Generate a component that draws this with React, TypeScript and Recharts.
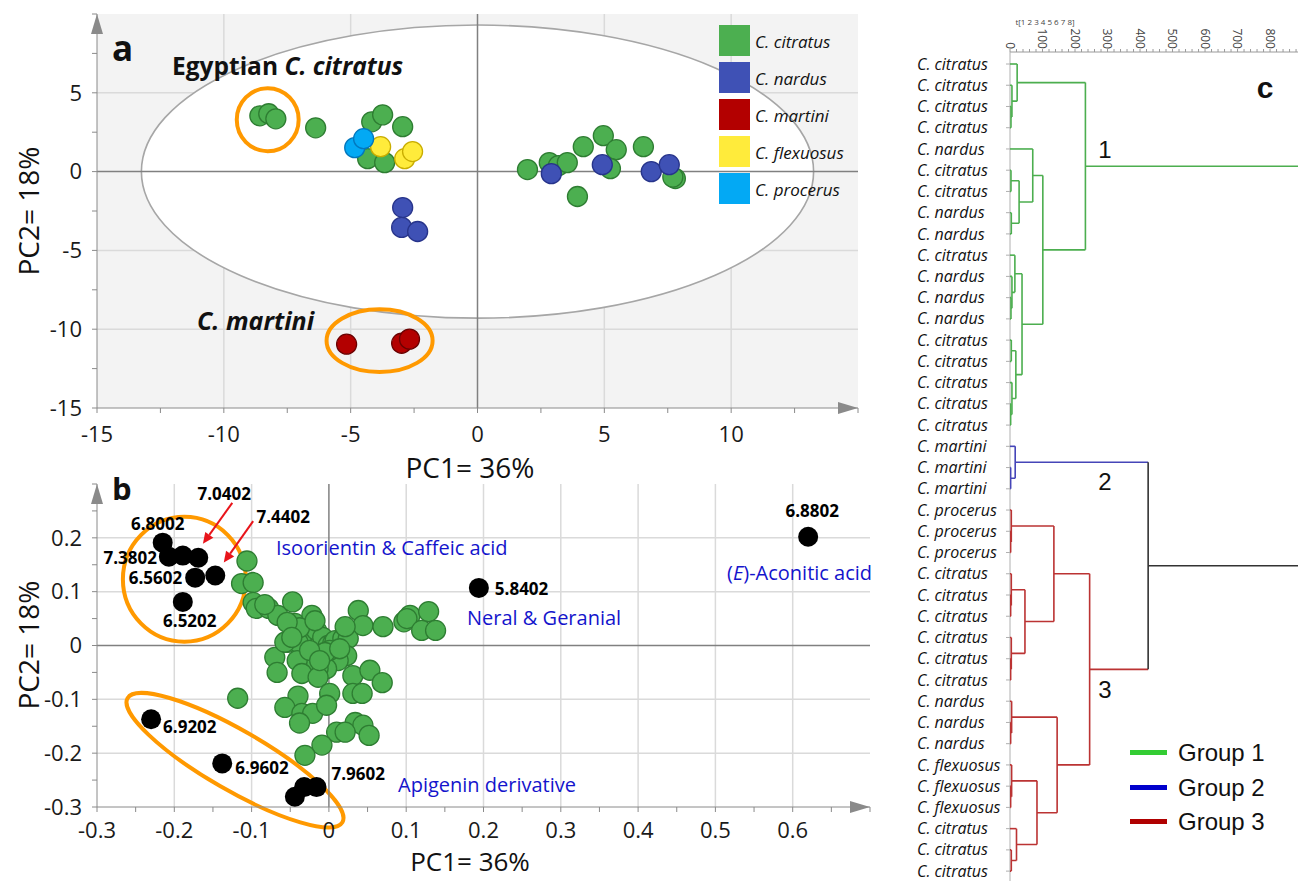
import React from "react";
import {
  ScatterChart, Scatter, XAxis, YAxis, CartesianGrid, ReferenceLine, ReferenceArea, ReferenceDot,
} from "recharts";

// ---------- panel a: PCA scores ----------
const citratusX = [-8.58, -8.23, -7.95, -6.38, -4.17, -3.74, -2.95, -4.33, -3.66, 1.97, 2.83, 3.19, 3.54, 4.17, 4.96, 5.47, 5.24, 3.94, 6.54, 7.8, 7.7];
const citratusY = [3.54, 3.67, 3.35, 2.78, 3.16, 3.6, 2.85, 0.82, 0.57, 0.13, 0.57, 0.38, 0.57, 1.58, 2.28, 1.39, 0.19, -1.58, 1.58, -0.44, -0.35];
const nardusX = [-2.95, -2.99, -2.36, 2.91, 4.92, 6.85, 7.56];
const nardusY = [-2.28, -3.54, -3.8, -0.13, 0.44, 0.0, 0.44];
const martiniX = [-5.16, -2.99, -2.68];
const martiniY = [-10.95, -10.89, -10.63];
const flexuosusX = [-3.82, -2.87, -2.56];
const flexuosusY = [1.58, 0.82, 1.27];
const procerusX = [-4.84, -4.49];
const procerusY = [1.52, 2.09];

const aXTicks = [-15, -12.5, -10, -7.5, -5, -2.5, 0, 2.5, 5, 7.5, 10, 12.5, 15];
const aXLabels = [-15, -10, -5, 0, 5, 10];
const aYTicks = [-15, -12.5, -10, -7.5, -5, -2.5, 0, 2.5, 5, 7.5, 10];
const aYLabels = [-15, -10, -5, 0, 5];
const aGridX = [-10, -5, 5, 10];
const aGridY = [-10, -5, 5];

const species = [
  { name: "C. citratus", xs: citratusX, ys: citratusY, fill: "#4caf50", stroke: "#2e7d32" },
  { name: "C. nardus", xs: nardusX, ys: nardusY, fill: "#3f51b5", stroke: "#27348b" },
  { name: "C. martini", xs: martiniX, ys: martiniY, fill: "#b30000", stroke: "#6a0000" },
  { name: "C. flexuosus", xs: flexuosusX, ys: flexuosusY, fill: "#ffeb3b", stroke: "#c9ad00" },
  { name: "C. procerus", xs: procerusX, ys: procerusY, fill: "#03a9f4", stroke: "#0277bd" },
];

// ---------- panel b: loadings ----------
const bGreenX = [-0.106, -0.113, -0.098, -0.098, -0.094, -0.078, -0.066, -0.047, -0.044, -0.022, -0.034, -0.053, -0.04, -0.016, -0.008, 0.001, -0.001, 0.005, 0.008, 0.018, 0.025, 0.023, 0.012, -0.003, -0.014, -0.028, -0.041, -0.07, -0.067, -0.035, -0.014, 0.031, 0.053, 0.069, 0.031, 0.043, 0.001, -0.04, -0.057, -0.035, -0.021, -0.003, -0.038, -0.118, 0.034, 0.044, 0.01, 0.021, 0.052, -0.009, -0.031, 0.038, 0.044, 0.07, 0.097, 0.105, 0.101, 0.12, 0.129, 0.138, -0.038, -0.057, -0.054, 0.001, -0.005, 0.014, -0.025, -0.012, -0.048, -0.083, -0.018, 0.021];
const bGreenY = [0.157, 0.115, 0.117, 0.08, 0.069, 0.069, 0.056, 0.081, 0.041, 0.056, 0.02, 0.006, 0.006, 0.028, 0.015, -0.004, 0.0, 0.004, 0.009, 0.013, 0.013, -0.019, -0.028, -0.043, -0.043, -0.028, -0.028, -0.022, -0.05, -0.052, -0.059, -0.056, -0.046, -0.069, -0.089, -0.089, -0.089, -0.094, -0.115, -0.126, -0.126, -0.111, -0.144, -0.098, -0.143, -0.148, -0.161, -0.161, -0.167, -0.185, -0.204, 0.065, 0.037, 0.035, 0.044, 0.056, 0.05, 0.028, 0.063, 0.028, 0.033, 0.006, 0.043, -0.009, -0.013, -0.006, -0.009, -0.028, 0.015, 0.076, 0.046, 0.035];

const loadingX = [-0.215, -0.207, -0.189, -0.169, -0.173, -0.147, -0.189, 0.194, 0.62, -0.23, -0.138, -0.044, -0.032, -0.016];
const loadingY = [0.191, 0.165, 0.167, 0.163, 0.126, 0.13, 0.081, 0.107, 0.202, -0.137, -0.219, -0.281, -0.263, -0.263];
const loadingLabel = ["6.8002", "7.3802", "", "7.0402", "6.5602", "7.4402", "6.5202", "5.8402", "6.8802", "6.9202", "6.9602", "", "", "7.9602"];

const bXTicks = [-0.3, -0.25, -0.2, -0.15, -0.1, -0.05, 0, 0.05, 0.1, 0.15, 0.2, 0.25, 0.3, 0.35, 0.4, 0.45, 0.5, 0.55, 0.6, 0.65, 0.7];
const bXLabels = [-0.3, -0.2, -0.1, 0, 0.1, 0.2, 0.3, 0.4, 0.5, 0.6];
const bYTicks = [-0.3, -0.25, -0.2, -0.15, -0.1, -0.05, 0, 0.05, 0.1, 0.15, 0.2, 0.25, 0.3];
const bYLabels = [-0.3, -0.2, -0.1, 0, 0.1, 0.2];
const bGridX = [-0.2, -0.1, 0.1, 0.2, 0.3, 0.4, 0.5, 0.6];
const bGridY = [-0.2, -0.1, 0.1, 0.2];

// label placement (px offset from the point, anchor)
const loadingLabelPlace: Record<string, [number, number, "start" | "middle" | "end"]> = {
  "6.8002": [-5, -19, "middle"],
  "7.3802": [-12, 1, "end"],
  "6.5602": [-13, 0, "end"],
  "6.5202": [7, 19, "middle"],
  "7.0402": [26, -64, "middle"],
  "7.4402": [68, -58, "middle"],
  "5.8402": [16, 1, "start"],
  "6.8802": [4, -26, "middle"],
  "6.9202": [12, 8, "start"],
  "6.9602": [13, 5, "start"],
  "7.9602": [15, -13, "start"],
};

// ---------- panel c: dendrogram ----------
const leafNames = [
  "C. citratus", "C. citratus", "C. citratus", "C. citratus", "C. nardus", "C. citratus", "C. citratus",
  "C. nardus", "C. nardus", "C. citratus", "C. nardus", "C. nardus", "C. nardus", "C. citratus",
  "C. citratus", "C. citratus", "C. citratus", "C. citratus",
  "C. martini", "C. martini", "C. martini",
  "C. procerus", "C. procerus", "C. procerus", "C. citratus", "C. citratus", "C. citratus",
  "C. citratus", "C. citratus", "C. citratus", "C. nardus", "C. nardus", "C. nardus",
  "C. flexuosus", "C. flexuosus", "C. flexuosus", "C. citratus", "C. citratus", "C. citratus",
];
const leafGroup = [
  1, 1, 1, 1, 1, 1, 1, 1, 1, 1, 1, 1, 1, 1, 1, 1, 1, 1,
  2, 2, 2,
  3, 3, 3, 3, 3, 3, 3, 3, 3, 3, 3, 3, 3, 3, 3, 3, 3, 3,
];
// [left, right, height, group]; ids < 39 are leaves, 39 + k is merge k
const merges: [number, number, number, number][] = [
  [2, 3, 3, 1], [1, 39, 6, 1], [0, 40, 22, 1], [5, 6, 3, 1], [7, 8, 4, 1], [42, 43, 28, 1],
  [4, 44, 70, 1], [11, 12, 3, 1], [10, 46, 6, 1], [9, 47, 15, 1], [13, 14, 4, 1], [16, 17, 2, 1],
  [15, 50, 6, 1], [49, 51, 18, 1], [48, 52, 37, 1], [45, 53, 101, 1], [41, 54, 232, 1],
  [19, 20, 2, 2], [18, 56, 16, 2],
  [22, 23, 2, 3], [21, 58, 4, 3], [25, 26, 2, 3], [24, 60, 4, 3], [28, 29, 2, 3], [27, 62, 4, 3],
  [61, 63, 46, 3], [59, 64, 135, 3], [31, 32, 2, 3], [30, 66, 5, 3], [34, 35, 2, 3], [33, 68, 5, 3],
  [37, 38, 4, 3], [36, 70, 20, 3], [69, 71, 83, 3], [67, 72, 145, 3], [65, 73, 245, 3],
  [57, 74, 425, 0], [55, 75, 1100, 0],
];
const distLabels = [0, 100, 200, 300, 400, 500, 600, 700, 800];
const groupNames = ["Group 1", "Group 2", "Group 3"];

const groupColor: Record<number, string> = { 0: "#333333", 1: "#4cae4f", 2: "#4545b8", 3: "#bb3333" };
const groupLegendColor = ["#33cc33", "#0000cc", "#b00000"];

const FONT = "'Open Sans', 'DejaVu Sans', sans-serif";
const ARIAL = "'Liberation Sans', Arial, sans-serif";

function Txt({ x, y, size, children, bold, italic, color = "#111", anchor = "start", family = FONT, rotate = 0 }: any) {
  const tx = anchor === "middle" ? "-50%" : anchor === "end" ? "-100%" : "0";
  return (
    <div style={{
      position: "absolute", left: x, top: y, transform: `translate(${tx}, -50%)${rotate ? ` rotate(${rotate}deg)` : ""}`,
      fontSize: size, fontWeight: bold ? 700 : 400, fontStyle: italic ? "italic" : "normal", color,
      fontFamily: family, whiteSpace: "nowrap", lineHeight: 1,
    }}>{children}</div>
  );
}

const dot = (fill: string, stroke: string) => (p: any) =>
  <circle cx={p.cx} cy={p.cy} r={10} fill={fill} stroke={stroke} strokeWidth={1.3} />;

const ellipseShape = (stroke: string, fill: string, sw: number, rot = 0) => (p: any) => {
  const cx = p.x + p.width / 2;
  const cy = p.y + p.height / 2;
  return (
    <ellipse cx={cx} cy={cy} rx={Math.abs(p.width) / 2} ry={Math.abs(p.height) / 2} fill={fill}
      stroke={stroke} strokeWidth={sw} transform={rot ? `rotate(${rot} ${cx} ${cy})` : undefined} />
  );
};

const upArrow = (p: any) => <polygon points={`${p.cx},${p.cy} ${p.cx - 6},${p.cy + 20} ${p.cx + 6},${p.cy + 20}`} fill="#8a8a8a" />;
const rightArrow = (p: any) => <polygon points={`${p.cx},${p.cy} ${p.cx - 20},${p.cy - 6} ${p.cx - 20},${p.cy + 6}`} fill="#8a8a8a" />;

const redArrow = (p: any) => {
  const { x1, y1, x2, y2 } = p;
  const a = Math.atan2(y2 - y1, x2 - x1);
  const bx = x2 - 11 * Math.cos(a);
  const by = y2 - 11 * Math.sin(a);
  const nx = -Math.sin(a) * 5;
  const ny = Math.cos(a) * 5;
  return (
    <g>
      <line x1={x1} y1={y1} x2={bx} y2={by} stroke="#e8141a" strokeWidth={2} />
      <polygon points={`${x2},${y2} ${bx + nx},${by + ny} ${bx - nx},${by - ny}`} fill="#e8141a" />
    </g>
  );
};

const loadingDot = (p: any) => {
  const lab = p.payload.label as string;
  const place = loadingLabelPlace[lab];
  return (
    <g>
      <circle cx={p.cx} cy={p.cy} r={10} fill="#000" />
      {place && (
        <text x={p.cx + place[0]} y={p.cy + place[1]} dy="0.35em" textAnchor={place[2]} fontSize={17}
          fontWeight={700} fontFamily={FONT} fill="#000">{lab}</text>
      )}
    </g>
  );
};

const axisTick = { fill: "#1a1a1a", fontSize: 22, fontFamily: FONT };
const zip = (xs: number[], ys: number[], extra?: string[]) =>
  xs.slice(0, Math.min(xs.length, ys.length)).map((x, i) => ({ x, y: ys[i], label: extra ? extra[i] : "" }));

// dendrogram geometry derived from the merge table
const N = leafNames.length;
const nodeY: number[] = [];
const nodeH: number[] = [];
const nodeCol: string[] = [];
const parent: number[] = [];
leafNames.forEach((_, i) => { nodeY[i] = i; nodeH[i] = 0; nodeCol[i] = groupColor[leafGroup[i]]; });
merges.forEach(([a, b, h, g], k) => {
  const id = N + k;
  nodeY[id] = (nodeY[a] + nodeY[b]) / 2;
  nodeH[id] = h;
  nodeCol[id] = groupColor[g];
  parent[a] = id;
  parent[b] = id;
});
const treePaths: { color: string; pts: { x: number; y: number }[] }[] = [];
for (let id = 0; id < N + merges.length; id++) {
  const p = parent[id];
  if (p === undefined) continue;
  if (id < N) {
    treePaths.push({ color: nodeCol[id], pts: [{ x: 0, y: nodeY[id] }, { x: nodeH[p], y: nodeY[id] }] });
  } else {
    const [a, b, h] = merges[id - N];
    treePaths.push({
      color: nodeCol[id],
      pts: [
        { x: h, y: nodeY[a] }, { x: h, y: nodeY[id] }, { x: nodeH[p], y: nodeY[id] },
        { x: h, y: nodeY[id] }, { x: h, y: nodeY[b] },
      ],
    });
  }
}
const distTicks = Array.from({ length: 45 }, (_, i) => i * 20);

const LeafTick = (props: any) => (
  <text x={17} y={props.y} dy="0.35em" fontSize={16} fontStyle="italic" fontFamily={FONT} fill="#111">
    {leafNames[props.payload.value]}
  </text>
);
const DistTick = (props: any) => {
  const v = props.payload.value;
  if (!distLabels.includes(v)) return <g />;
  return (
    <text x={props.x} y={49} dy="0.35em" textAnchor="end" fontSize={12} fontFamily={FONT} fill="#444"
      transform={`rotate(90 ${props.x} 49)`}>{v}</text>
  );
};

export default function App() {
  return (
    <div style={{ position: "absolute", left: 0, top: 0, width: 1298, height: 881, background: "#fff", overflow: "hidden" }}>
      {/* panel a */}
      <div style={{ position: "absolute", left: 0, top: 0 }}>
        <ScatterChart width={870} height={480} margin={{ top: 14, right: 12, left: 0, bottom: 12 }}>
          <CartesianGrid fill="#f3f3f3" horizontal={false} vertical={false} />
          <ReferenceArea x1={-13.25} x2={13.25} y1={-9.3} y2={9.3} shape={ellipseShape("#a6a6a6", "#ffffff", 1.6)} />
          <CartesianGrid stroke="#dadada" strokeWidth={1.5} verticalValues={aGridX} horizontalValues={aGridY} />
          <ReferenceLine x={0} stroke="#808080" strokeWidth={1.5} />
          <ReferenceLine y={0} stroke="#808080" strokeWidth={1.5} />
          <XAxis type="number" dataKey="x" domain={[-15, 15]} ticks={aXTicks} allowDataOverflow height={60}
            tickFormatter={(v: number) => (aXLabels.includes(v) ? String(v) : "")}
            stroke="#8a8a8a" tick={axisTick} tickSize={5} tickMargin={13} />
          <YAxis type="number" dataKey="y" domain={[-15, 10]} ticks={aYTicks} allowDataOverflow width={97}
            tickFormatter={(v: number) => (aYLabels.includes(v) ? String(v) : "")}
            stroke="#8a8a8a" tick={axisTick} tickSize={5} tickMargin={10} />
          <ReferenceDot x={-15} y={10} ifOverflow="visible" shape={upArrow} />
          <ReferenceDot x={15} y={-15} ifOverflow="visible" shape={rightArrow} />
          {species.map((s) => (
            <Scatter key={s.name} name={s.name} data={zip(s.xs, s.ys)} shape={dot(s.fill, s.stroke)} isAnimationActive={false} />
          ))}
          <ReferenceArea x1={-9.49} x2={-7.05} y1={1.29} y2={5.29} shape={ellipseShape("#ff9900", "none", 4)} />
          <ReferenceArea x1={-5.95} x2={-1.77} y1={-12.72} y2={-8.74} shape={ellipseShape("#ff9900", "none", 4)} />
        </ScatterChart>
      </div>

      {/* panel b */}
      <div style={{ position: "absolute", left: 0, top: 470 }}>
        <ScatterChart width={880} height={411} margin={{ top: 14, right: 10, left: 0, bottom: 14 }}>
          <CartesianGrid stroke="#dadada" strokeWidth={1.5} verticalValues={bGridX} horizontalValues={bGridY} />
          <ReferenceLine x={0} stroke="#808080" strokeWidth={1.5} />
          <ReferenceLine y={0} stroke="#808080" strokeWidth={1.5} />
          <XAxis type="number" dataKey="x" domain={[-0.3, 0.7]} ticks={bXTicks} allowDataOverflow height={60}
            tickFormatter={(v: number) => (bXLabels.includes(v) ? (v === 0 ? "0" : String(v)) : "")}
            stroke="#8a8a8a" tick={axisTick} tickSize={5} tickMargin={10} />
          <YAxis type="number" dataKey="y" domain={[-0.3, 0.3]} ticks={bYTicks} allowDataOverflow width={97}
            tickFormatter={(v: number) => (bYLabels.includes(v) ? (v === 0 ? "0" : String(v)) : "")}
            stroke="#8a8a8a" tick={axisTick} tickSize={5} tickMargin={10} />
          <ReferenceDot x={-0.3} y={0.3} ifOverflow="visible" shape={upArrow} />
          <ReferenceDot x={0.7} y={-0.3} ifOverflow="visible" shape={rightArrow} />
          <ReferenceArea x1={-0.2665} x2={-0.1075} y1={0.007} y2={0.239} shape={ellipseShape("#ff9900", "none", 4)} />
          <ReferenceArea x1={-0.282} x2={0.039} y1={-0.2686} y2={-0.1574} shape={ellipseShape("#ff9900", "none", 4, 30)} />
          <Scatter name="variables" data={zip(bGreenX, bGreenY)} shape={dot("#4caf50", "#2e7d32")} isAnimationActive={false} />
          <Scatter name="markers" data={zip(loadingX, loadingY, loadingLabel)} shape={loadingDot} isAnimationActive={false} />
          <ReferenceLine segment={[{ x: -0.125, y: 0.265 }, { x: -0.163, y: 0.189 }]} shape={redArrow} ifOverflow="visible" />
          <ReferenceLine segment={[{ x: -0.098, y: 0.231 }, { x: -0.136, y: 0.154 }]} shape={redArrow} ifOverflow="visible" />
        </ScatterChart>
      </div>

      {/* panel c */}
      <div style={{ position: "absolute", left: 900, top: 0 }}>
        <ScatterChart width={398} height={881} margin={{ top: 0, right: 0, left: 0, bottom: 0 }}>
          <XAxis type="number" dataKey="x" orientation="top" domain={[0, 886]} allowDataOverflow ticks={distTicks}
            height={52} stroke="#9a9a9a" tickSize={3} tick={<DistTick />} interval={0} />
          <YAxis type="number" dataKey="y" domain={[-0.565, 38.465]} reversed allowDataOverflow
            ticks={leafNames.map((_, i) => i)} width={110} stroke="#b0b0b0" tickSize={4} tick={<LeafTick />} interval={0} />
          {treePaths.map((t, i) => (
            <Scatter key={i} data={t.pts} line={{ stroke: t.color, strokeWidth: 1.6 }} lineType="joint"
              shape={() => <g />} isAnimationActive={false} />
          ))}
        </ScatterChart>
      </div>

      {/* panel a texts */}
      <Txt x={112} y={47} size={35} bold>a</Txt>
      <Txt x={172} y={66} size={24.5} bold>Egyptian <i>C. citratus</i></Txt>
      <Txt x={197} y={320} size={25} bold italic>C. martini</Txt>
      <Txt x={470} y={467} size={28} anchor="middle">PC1= 36%</Txt>
      <Txt x={28} y={211} size={28} anchor="middle" rotate={-90}>PC2= 18%</Txt>
      {species.map((s, i) => (
        <React.Fragment key={s.name}>
          <div style={{ position: "absolute", left: 719, top: 25 + i * 37, width: 31, height: 31, background: s.fill }} />
          <Txt x={755} y={40.5 + i * 37} size={17} italic>{s.name}</Txt>
        </React.Fragment>
      ))}

      {/* panel b texts */}
      <Txt x={112} y={488} size={31} bold>b</Txt>
      <Txt x={276} y={548} size={20} color="#1414cc">Isoorientin &amp; Caffeic acid</Txt>
      <Txt x={467} y={618} size={20} color="#1414cc">Neral &amp; Geranial</Txt>
      <Txt x={727} y={573} size={20} color="#1414cc">(<i>E</i>)-Aconitic acid</Txt>
      <Txt x={398} y={785} size={20} color="#1414cc">Apigenin derivative</Txt>
      <Txt x={470} y={861} size={26} anchor="middle">PC1= 36%</Txt>
      <Txt x={28} y={645} size={28} anchor="middle" rotate={-90}>PC2= 18%</Txt>

      {/* panel c texts */}
      <Txt x={1045} y={22} size={8} anchor="middle" color="#444">t[1 2 3 4 5 6 7 8]</Txt>
      <Txt x={1265} y={88} size={30} bold family={ARIAL} anchor="middle">c</Txt>
      <Txt x={1105} y={150} size={24} family={ARIAL} anchor="middle">1</Txt>
      <Txt x={1105} y={482} size={24} family={ARIAL} anchor="middle">2</Txt>
      <Txt x={1105} y={690} size={24} family={ARIAL} anchor="middle">3</Txt>
      {groupNames.map((g, i) => (
        <React.Fragment key={g}>
          <div style={{ position: "absolute", left: 1130, top: 750 + i * 34.5, width: 37, height: 5, background: groupLegendColor[i] }} />
          <Txt x={1178} y={753 + i * 34.5} size={24} family={ARIAL}>{g}</Txt>
        </React.Fragment>
      ))}
    </div>
  );
}
